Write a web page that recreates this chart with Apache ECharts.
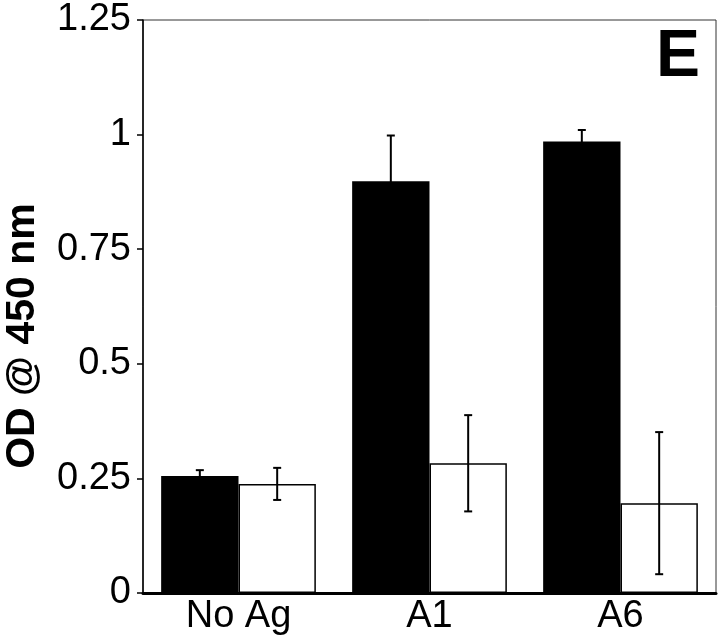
<!DOCTYPE html>
<html>
<head>
<meta charset="utf-8">
<script src="https://cdn.jsdelivr.net/npm/echarts@6/dist/echarts.min.js"></script>
<style>
  html, body { margin: 0; padding: 0; background: #fff; }
  #chart { width: 720px; height: 644px; }
</style>
</head>
<body>
<div id="chart"></div>
<script>
// data
var categories = ['No Ag', 'A1', 'A6'];
var blackVals = [0.255, 0.898, 0.985];
var blackErr = [0.013, 0.10, 0.025];
var whiteVals = [0.238, 0.283, 0.196];
var whiteErr = [0.035, 0.105, 0.155];
var yTicks = [0, 0.25, 0.5, 0.75, 1, 1.25];

var FONT = '"Liberation Sans", Arial, sans-serif';
var GAP = 0.19; // barCategoryGap
var OFFSET = (1 - GAP) / 4; // bar centre offset, fraction of category width

function errData(vals, errs) {
  return vals.map(function (v, i) { return [i, v - errs[i], v + errs[i]]; });
}

function errRender(sign) {
  return function (params, api) {
    var cat = api.value(0);
    var lo = api.coord([cat, api.value(1)]);
    var hi = api.coord([cat, api.value(2)]);
    var x = lo[0] + sign * api.size([1, 0])[0] * OFFSET;
    var cap = 4;
    var style = { stroke: '#000', lineWidth: 2 };
    return {
      type: 'group',
      children: [
        { type: 'line', shape: { x1: x, y1: lo[1], x2: x, y2: hi[1] }, style: style },
        { type: 'line', shape: { x1: x - cap, y1: lo[1], x2: x + cap, y2: lo[1] }, style: style },
        { type: 'line', shape: { x1: x - cap, y1: hi[1], x2: x + cap, y2: hi[1] }, style: style }
      ]
    };
  };
}

var chart = echarts.init(document.getElementById('chart'));
chart.setOption({
  animation: false,
  backgroundColor: '#fff',
  grid: {
    left: 143, right: 4, top: 20, bottom: 51,
    outerBoundsMode: 'none',
    containLabel: false,
    show: true, borderColor: '#333', borderWidth: 1
  },
  xAxis: {
    type: 'category',
    data: categories,
    axisLine: { lineStyle: { color: '#000', width: 3 } },
    axisTick: { alignWithLabel: true, length: 7, lineStyle: { color: '#000', width: 1.5 } },
    axisLabel: { color: '#000', fontSize: 38, fontFamily: FONT, margin: 5 }
  },
  yAxis: {
    type: 'value',
    min: yTicks[0],
    max: yTicks[yTicks.length - 1],
    interval: 0.25,
    splitLine: { show: false },
    axisLine: { show: true, lineStyle: { color: '#000', width: 1.5 } },
    axisTick: { show: true, length: 6, lineStyle: { color: '#000', width: 1.5 } },
    axisLabel: { color: '#000', fontSize: 38, fontFamily: FONT, margin: 12 }
  },
  series: [
    {
      type: 'bar',
      data: blackVals,
      barGap: '0%',
      barCategoryGap: (GAP * 100) + '%',
      itemStyle: { color: '#000' }
    },
    {
      type: 'bar',
      data: whiteVals,
      itemStyle: { color: '#fff', borderColor: '#000', borderWidth: 1.5 }
    },
    {
      type: 'custom',
      data: errData(blackVals, blackErr),
      encode: { x: 0, y: [1, 2] },
      renderItem: errRender(-1),
      z: 5
    },
    {
      type: 'custom',
      data: errData(whiteVals, whiteErr),
      encode: { x: 0, y: [1, 2] },
      renderItem: errRender(1),
      z: 5
    }
  ],
  graphic: [
    {
      type: 'text',
      x: 23,
      y: 336,
      rotation: Math.PI / 2,
      style: {
        text: 'OD @ 450 nm', fill: '#000', fontSize: 41, fontWeight: 'bold', fontFamily: FONT,
        align: 'center', verticalAlign: 'middle'
      }
    },
    {
      type: 'text',
      right: 20,
      top: 25,
      style: { text: 'E', fill: '#000', fontSize: 66, fontWeight: 'bold', fontFamily: FONT }
    }
  ]
});
</script>
</body>
</html>
